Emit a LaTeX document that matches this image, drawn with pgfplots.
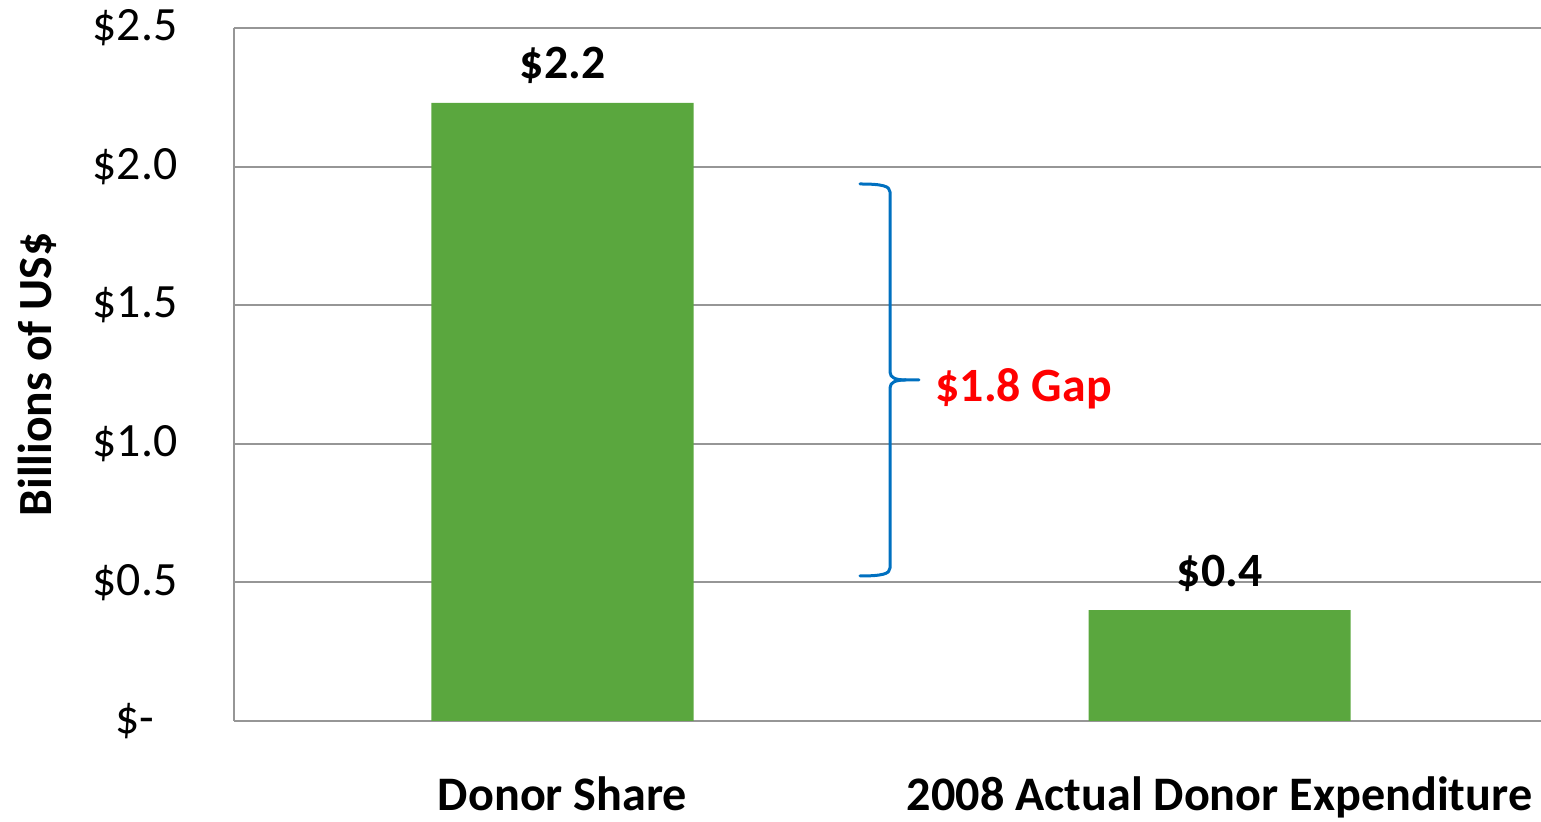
\documentclass[border=0pt]{standalone}
\usepackage{fontspec}
\setmainfont{Carlito}
\usepackage{pgfplots}
\pgfplotsset{compat=1.18}
\definecolor{bargreen}{RGB}{90,167,62}
\definecolor{gridgray}{RGB}{150,150,150}
\definecolor{bracecol}{RGB}{0,112,192}
\definecolor{gapred}{RGB}{255,0,0}
\begin{document}
\begin{tikzpicture}
\begin{axis}[
  scale only axis,
  width=131.4mm, height=69.3mm,
  xmin=-0.5, xmax=1.5, ymin=0, ymax=2.5,
  ybar, bar width=26.2mm,
  xtick={0,1},
  xticklabels={Donor Share, 2008 Actual Donor Expenditure},
  ytick={0,0.5,1,1.5,2,2.5},
  yticklabels={\$-, \$0.5, \$1.0, \$1.5, \$2.0, \$2.5},
  axis lines*=left,
  axis line style={gridgray, line width=0.2mm},
  ymajorgrids,
  grid style={gridgray, line width=0.2mm},
  major tick length=0pt,
  tick style={draw=none},
  /pgf/number format/assume math mode=true,
  xticklabel style={font=\fontsize{13.7}{16}\selectfont\bfseries, anchor=base, yshift=-9.0mm},
  yticklabel style={font=\fontsize{13.6}{16}\selectfont, anchor=center, xshift=-9.9mm},
  ylabel={Billions of US\$},
  ylabel style={at={(axis description cs:-0.1499,0.5)}, anchor=center, font=\fontsize{13.55}{16}\selectfont\bfseries},
  nodes near coords={\$\pgfmathprintnumber[fixed,fixed zerofill,precision=1,assume math mode=true]{\pgfplotspointmeta}},
  nodes near coords style={font=\fontsize{13.6}{16}\selectfont\bfseries, anchor=base, yshift=2.4mm, black},
]
\addplot[draw=none, fill=bargreen] coordinates {(0,2.23) (1,0.40)};
\draw[bracecol, line width=0.3mm, line cap=round, line join=round]
  (axis cs:0.4528,1.9372) .. controls (axis cs:0.4863,1.9372) and (axis cs:0.4985,1.9300) .. (axis cs:0.4985,1.9084)
  -- (axis cs:0.4985,1.2590) .. controls (axis cs:0.4985,1.2374) and (axis cs:0.5076,1.2302) .. (axis cs:0.5228,1.2302)
  -- (axis cs:0.5426,1.2302);
\draw[bracecol, line width=0.3mm, line cap=round, line join=round]
  (axis cs:0.5228,1.2302) .. controls (axis cs:0.5076,1.2302) and (axis cs:0.4985,1.2229) .. (axis cs:0.4985,1.2013)
  -- (axis cs:0.4985,0.5519) .. controls (axis cs:0.4985,0.5303) and (axis cs:0.4863,0.5231) .. (axis cs:0.4528,0.5231);
\node[anchor=base west, inner sep=0pt, text=gapred, font=\fontsize{13.6}{16}\selectfont\bfseries]
  at (axis cs:0.567,1.154) {\$1.8 Gap};
\coordinate (bl) at (rel axis cs:0,0);
\coordinate (tr) at (rel axis cs:1,1);
\end{axis}
\pgfresetboundingbox
\path[use as bounding box] ([xshift=-23.4mm,yshift=-10.1mm]bl) rectangle ([xshift=-0.7mm,yshift=2.8mm]tr);
\end{tikzpicture}
\end{document}
